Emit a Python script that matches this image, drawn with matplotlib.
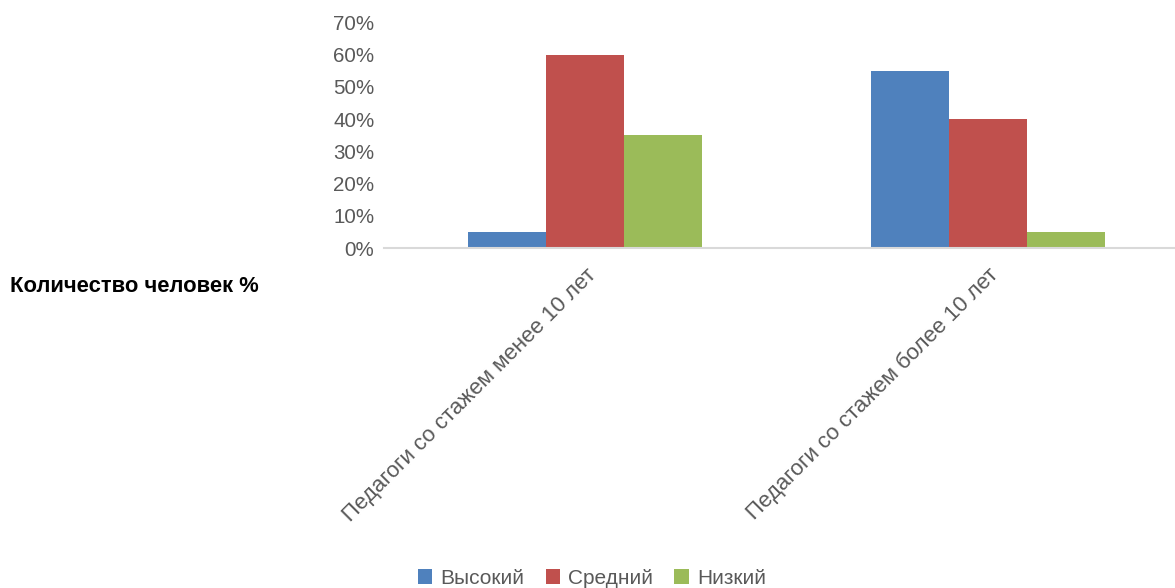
import numpy as np
import matplotlib.pyplot as plt
from matplotlib.ticker import PercentFormatter

plt.rcParams['font.family'] = ['Liberation Sans', 'DejaVu Sans']

categories = ["Педагоги со стажем менее 10 лет", "Педагоги со стажем более 10 лет"]
series = ["Высокий", "Средний", "Низкий"]
high = [5, 55]
medium = [60, 40]
low = [35, 5]
colors = ["#4F81BD", "#C0504D", "#9BBB59"]

fig = plt.figure(figsize=(11.75, 5.88), dpi=100)
ax = fig.add_axes([384 / 1175, 1 - 248 / 588, 805 / 1175, 225.5 / 588])

x = np.arange(len(categories))
w = 0.194
for i, (vals, name, c) in enumerate(zip([high, medium, low], series, colors)):
    ax.bar(x + (i - 1) * w, vals, w, color=c, label=name)

ax.set_xlim(-0.5, 1.5)
ax.set_ylim(0, 70)
ax.set_yticks(range(0, 71, 10))
ax.yaxis.set_major_formatter(PercentFormatter(decimals=0))
ax.set_xticks(x)
ax.set_xticklabels(categories, rotation=45, ha="right", rotation_mode="anchor",
                   fontsize=16)

for s in ["top", "right", "left"]:
    ax.spines[s].set_visible(False)
ax.spines["bottom"].set_color("#d9d9d9")
ax.spines["bottom"].set_linewidth(1.5)
ax.tick_params(axis="both", length=0, colors="#595959")
ax.tick_params(axis="y", pad=7, labelsize=14.8)
ax.tick_params(axis="x", pad=12)

fig.text(10 / 1175, 1 - 286 / 588, "Количество человек %", fontsize=15.8,
         fontweight="bold", va="center", ha="left", color="black")

fig.legend(loc="center", bbox_to_anchor=(592 / 1175, 1 - 578 / 588), ncol=3,
           frameon=False, fontsize=15, handlelength=0.7, handleheight=0.7,
           handletextpad=0.4, columnspacing=1.0, labelcolor="#595959")

fig.savefig("out.png", dpi=100)
